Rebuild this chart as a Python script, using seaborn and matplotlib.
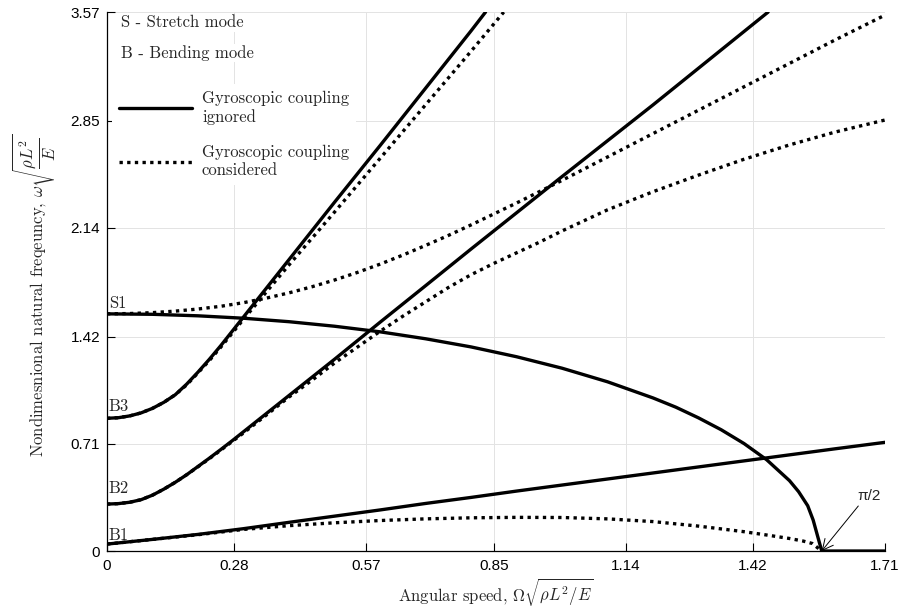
import numpy as np
import pandas as pd
import matplotlib
matplotlib.use("Agg")
import matplotlib.pyplot as plt
import seaborn as sns
from matplotlib.lines import Line2D


# Natural frequency vs angular speed
# solid = gyroscopic coupling ignored, dotted = considered

b1_x = [0, 0.1, 0.2, 0.3, 0.4, 0.5, 0.6, 0.7, 0.8, 0.9, 1.0, 1.1, 1.2, 1.3, 1.4, 1.5, 1.6, 1.71]
b1_y = [0.046, 0.077, 0.11, 0.148, 0.19, 0.231, 0.272, 0.315, 0.355, 0.397, 0.437, 0.477, 0.517, 0.557,
        0.597, 0.637, 0.677, 0.72]

b1g_x = [0, 0.1, 0.2, 0.3, 0.4, 0.5, 0.6, 0.7, 0.8, 0.9, 1.0, 1.1, 1.2, 1.3, 1.4, 1.45, 1.5, 1.53, 1.55,
         1.5708]
b1g_y = [0.046, 0.077, 0.108, 0.143, 0.168, 0.187, 0.202, 0.213, 0.22, 0.223, 0.222, 0.213, 0.195, 0.165,
         0.128, 0.106, 0.083, 0.066, 0.05, 0.0]

b2_x = [0, 0.025, 0.05, 0.075, 0.1, 0.125, 0.15, 0.175, 0.2, 0.225, 0.25, 0.275, 0.3, 0.35, 0.4, 0.45,
        0.5, 0.6, 0.7, 0.8, 0.9, 1.0, 1.2, 1.453]
b2_y = [0.311, 0.314, 0.323, 0.34, 0.37, 0.41, 0.455, 0.505, 0.56, 0.615, 0.672, 0.73, 0.79, 0.91, 1.03,
        1.15, 1.27, 1.515, 1.757, 2.0, 2.24, 2.48, 2.955, 3.57]

b2g_x = [0, 0.025, 0.05, 0.075, 0.1, 0.125, 0.15, 0.175, 0.2, 0.225, 0.25, 0.275, 0.3, 0.35, 0.4, 0.45,
         0.5, 0.55, 0.6, 0.65, 0.7, 0.75, 0.8, 0.85, 0.9, 0.95, 1.0, 1.1, 1.2, 1.3, 1.4, 1.5, 1.6, 1.71]
b2g_y = [0.311, 0.314, 0.323, 0.34, 0.37, 0.41, 0.455, 0.505, 0.558, 0.612, 0.668, 0.725, 0.782, 0.9,
         1.02, 1.13, 1.245, 1.35, 1.455, 1.555, 1.65, 1.745, 1.83, 1.905, 1.975, 2.045, 2.12, 2.26, 2.38,
         2.49, 2.595, 2.69, 2.775, 2.855]

b3_x = [0, 0.025, 0.05, 0.075, 0.1, 0.125, 0.15, 0.175, 0.2, 0.225, 0.25, 0.275, 0.3, 0.35, 0.4, 0.45,
        0.5, 0.6, 0.7, 0.8, 0.832]
b3_y = [0.879, 0.883, 0.895, 0.915, 0.945, 0.985, 1.035, 1.105, 1.185, 1.27, 1.36, 1.455, 1.55, 1.74,
        1.93, 2.12, 2.31, 2.685, 3.065, 3.445, 3.57]

b3g_x = [0, 0.025, 0.05, 0.075, 0.1, 0.125, 0.15, 0.175, 0.2, 0.225, 0.25, 0.275, 0.3, 0.35, 0.4, 0.45,
         0.5, 0.6, 0.7, 0.8, 0.872]
b3g_y = [0.879, 0.883, 0.895, 0.915, 0.945, 0.985, 1.035, 1.1, 1.18, 1.262, 1.35, 1.442, 1.535, 1.715,
         1.895, 2.07, 2.245, 2.6, 2.955, 3.31, 3.57]

s1_x = [0, 0.1, 0.2, 0.3, 0.4, 0.5, 0.6, 0.7, 0.8, 0.9, 1.0, 1.1, 1.2, 1.25, 1.3, 1.35, 1.4, 1.45, 1.5,
        1.52, 1.54, 1.552, 1.5708, 1.71]
s1_y = [1.571, 1.568, 1.558, 1.542, 1.519, 1.489, 1.452, 1.406, 1.352, 1.287, 1.211, 1.121, 1.014, 0.953,
        0.882, 0.803, 0.712, 0.604, 0.466, 0.393, 0.30, 0.205, 0.0, 0.0]

s1g_x = [0, 0.05, 0.1, 0.15, 0.2, 0.25, 0.3, 0.35, 0.4, 0.45, 0.5, 0.55, 0.6, 0.65, 0.7, 0.75, 0.8, 0.9,
         1.0, 1.1, 1.2, 1.3, 1.4, 1.5, 1.6, 1.71]
s1g_y = [1.571, 1.573, 1.579, 1.589, 1.603, 1.621, 1.645, 1.675, 1.71, 1.75, 1.795, 1.845, 1.9, 1.96,
         2.024, 2.09, 2.16, 2.305, 2.455, 2.61, 2.765, 2.92, 3.075, 3.23, 3.385, 3.55]

xticks = [0, 0.28, 0.57, 0.85, 1.14, 1.42, 1.71]
yticks = [0, 0.71, 1.42, 2.14, 2.85, 3.57]

mode_names = ["S1", "B3", "B2", "B1"]
mode_label_y = [1.642, 0.96, 0.417, 0.106]


sns.set_style("ticks")
plt.rcParams["mathtext.fontset"] = "cm"
plt.rcParams["font.family"] = ["Liberation Sans", "DejaVu Sans"]

fig = plt.figure(figsize=(8.99, 6.09), dpi=100)
ax = fig.add_axes([0.119, 0.0952, 0.8655, 0.885])

lw = 2.4
dots = (0, (1, 1.3))

curves = [
    (s1_x, s1_y, "-"), (b1_x, b1_y, "-"), (b2_x, b2_y, "-"), (b3_x, b3_y, "-"),
    (s1g_x, s1g_y, dots), (b1g_x, b1g_y, dots), (b2g_x, b2g_y, dots), (b3g_x, b3g_y, dots),
]
for cx, cy, ls in curves:
    df = pd.DataFrame({"omega": cx, "freq": cy})
    sns.lineplot(data=df, x="omega", y="freq", ax=ax, color="black",
                 lw=lw, linestyle=ls, estimator=None, sort=False, zorder=3)

ax.set_xlim(0, 1.71)
ax.set_ylim(0, 3.57)
ax.set_xticks(xticks)
ax.set_xticklabels([f"{t:g}" for t in xticks])
ax.set_yticks(yticks)
ax.set_yticklabels([f"{t:g}" for t in yticks])
ax.tick_params(direction="in", length=6, width=0.8, labelsize=11, colors="black")
ax.tick_params(axis="x", pad=6)
ax.tick_params(axis="y", pad=5)
ax.grid(True, color="#e3e3e3", lw=0.7)
ax.set_axisbelow(True)
sns.despine(ax=ax)
for s in ["left", "bottom"]:
    ax.spines[s].set_linewidth(0.9)
    ax.spines[s].set_color("black")

ax.set_xlabel(r"Angular speed, $\Omega\sqrt{\rho L^2/E}$", family="cmr10", fontsize=12, labelpad=2)
ax.set_ylabel(r"Nondimesnional natural freqeuncy, $\omega\sqrt{\dfrac{\rho L^2}{E}}$",
              family="cmr10", fontsize=12)
ax.yaxis.set_label_coords(-0.063, 0.475)

for name, yy in zip(mode_names, mode_label_y):
    ax.text(0.004, yy, name, family="cmr10", fontsize=12, ha="left", va="center", zorder=4)

ax.text(0.03, 3.50, "S - Stretch mode", family="cmr10", fontsize=12, ha="left", va="center",
        bbox=dict(fc="white", ec="none", pad=1), zorder=2.5)
ax.text(0.03, 3.30, "B - Bending mode", family="cmr10", fontsize=12, ha="left", va="center",
        bbox=dict(fc="white", ec="none", pad=1), zorder=2.5)

handles = [Line2D([], [], color="black", lw=lw, linestyle="-"),
           Line2D([], [], color="black", lw=lw, linestyle=dots)]
leg = ax.legend(handles, ["Gyroscopic coupling\nignored", "Gyroscopic coupling\nconsidered"],
                loc="upper left", bbox_to_anchor=(0.0, 0.875), frameon=True, fancybox=False,
                edgecolor="none", facecolor="white", framealpha=1, handlelength=4.4,
                handletextpad=0.6, labelspacing=1.2, borderaxespad=0.3,
                prop={"family": "cmr10", "size": 12})
leg.set_zorder(2.5)

ax.annotate("π/2", xy=(1.5708, 0), xytext=(1.675, 0.32), fontsize=11,
            ha="center", va="bottom",
            arrowprops=dict(arrowstyle="->,head_length=0.7,head_width=0.35", color="black",
                            lw=0.7, shrinkA=0, shrinkB=0, relpos=(0.15, 0.0)))

fig.savefig("out.png", dpi=100)
